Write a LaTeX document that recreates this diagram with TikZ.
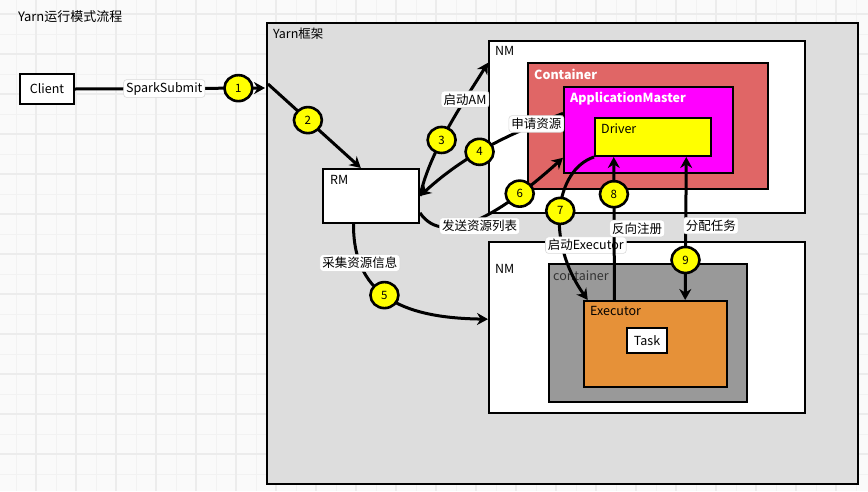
\documentclass[tikz,border=0pt]{standalone}
\usepackage{fontspec}
\setmainfont{Noto Sans CJK SC}
\usetikzlibrary{arrows.meta,shapes.geometric}
\definecolor{yarnbg}{RGB}{250, 250, 250}
\definecolor{yarngridminor}{RGB}{242, 242, 242}
\definecolor{yarngridmajor}{RGB}{236, 236, 236}
\definecolor{yarngray}{RGB}{221, 221, 221}
\definecolor{yarnred}{RGB}{224, 102, 102}
\definecolor{yarnmagenta}{RGB}{255, 0, 255}
\definecolor{yarnyellow}{RGB}{255, 255, 0}
\definecolor{yarndark}{RGB}{153, 153, 153}
\definecolor{yarnorange}{RGB}{230, 145, 56}

\tikzset{
    box/.style={draw=black, line width=2pt, anchor=north west, inner sep=0pt},
    boxtitle/.style={anchor=west, inner sep=0pt, font=\fontsize{12.5}{14}\selectfont},
    flow/.style={line width=3pt, -{Stealth[length=11pt,width=12pt]}},
    twoway/.style={line width=3pt, {Stealth[length=11pt,width=12pt]}-{Stealth[length=11pt,width=12pt]}},
    edgetext/.style={fill=white, draw=black!15, line width=0.6pt, rounded corners=3pt,
        inner sep=2.5pt, font=\fontsize{12.5}{14}\selectfont},
    badge/.style={ellipse, fill=yarnyellow, draw=black, line width=2.6pt, minimum width=28pt,
        minimum height=26pt, inner sep=0pt, font=\fontsize{11.5}{12}\selectfont},
}

\begin{document}
\begin{tikzpicture}[x=1pt, y=-1pt]
    \useasboundingbox (0,0) rectangle (868,491);

    % background grid
    \fill[yarnbg] (0,0) rectangle (868,491);
    \foreach \gx in {16,56,...,856} \draw[yarngridminor, line width=1pt] (\gx,0) -- (\gx,491);
    \foreach \gy in {34,74,...,474} \draw[yarngridminor, line width=1pt] (0,\gy) -- (868,\gy);
    \foreach \gx in {36,76,...,836} \draw[yarngridmajor, line width=1.4pt] (\gx,0) -- (\gx,491);
    \foreach \gy in {14,54,...,454} \draw[yarngridmajor, line width=1.4pt] (0,\gy) -- (868,\gy);

    \node[boxtitle, font=\fontsize{13}{15}\selectfont] (title) at (18,17) {Yarn运行模式流程};

    % Client
    \node[box, fill=white, minimum width=54pt, minimum height=30pt, font=\fontsize{12.5}{14}\selectfont] (client) at (19,73) {Client};

    % Yarn
    \node[box, fill=yarngray, minimum width=591pt, minimum height=461pt] (yarn) at (266,22) {};
    \node[boxtitle] (yarnlbl) at (273,34) {Yarn框架};
    \coordinate (yarnin) at (265,88);
    \coordinate (yarnout) at (268,84);

    % RM
    \node[box, fill=white, minimum width=96pt, minimum height=54pt] (rm) at (322,168) {};
    \node[boxtitle] (rmlbl) at (330,180) {RM};

    % NM with ApplicationMaster
    \node[box, fill=white, minimum width=316pt, minimum height=172pt] (nm1) at (488,40) {};
    \node[boxtitle] (nm1lbl) at (495,51) {NM};
    \node[box, fill=yarnred, minimum width=240pt, minimum height=126pt] (ctr1) at (527,62) {};
    \node[boxtitle, text=white, font=\fontsize{12.5}{14}\selectfont\bfseries] (ctr1lbl) at (534,74) {Container};
    \node[box, fill=yarnmagenta, minimum width=169pt, minimum height=86pt] (am) at (563,86) {};
    \node[boxtitle, text=white, font=\fontsize{12.5}{14}\selectfont\bfseries] (amlbl) at (570,99) {ApplicationMaster};
    \node[box, fill=yarnyellow, minimum width=116pt, minimum height=38pt] (drv) at (594,117) {};
    \node[boxtitle] (drvlbl) at (601,129) {Driver};

    % NM with Executor
    \node[box, fill=white, minimum width=316pt, minimum height=171pt] (nm2) at (488,241) {};
    \node[boxtitle] (nm2lbl) at (495,269) {NM};
    \node[box, fill=yarndark, minimum width=198pt, minimum height=138pt] (ctr2) at (548,263) {};
    \node[boxtitle, text=black!80] (ctr2lbl) at (553,276) {container};
    \node[box, fill=yarnorange, minimum width=143pt, minimum height=86pt] (exe) at (583,300) {};
    \node[boxtitle] (exelbl) at (590,311) {Executor};
    \node[box, fill=white, minimum width=40pt, minimum height=25pt, font=\fontsize{12.5}{14}\selectfont] (task) at (626,327) {Task};

    % steps
    \draw[flow] (client.east) -- (yarnin)
        node[edgetext, pos=0.47] (sparksubmit) {SparkSubmit} node[badge, pos=0.86] (b1) {1};
    \draw[flow] (yarnout) -- (rm.110) node[badge, pos=0.43] (b2) {2};
    \draw[flow] (rm.east) .. controls (430,150) and (465,100) .. (nm1.158)
        node[badge, pos=0.4] (b3) {3} node[edgetext, pos=0.7] (startam) {启动AM};
    \draw[flow] (am.169) .. controls (520,130) and (470,150) .. (rm.east)
        node[edgetext, pos=0.2] (askres) {申请资源} node[badge, pos=0.6] (b4) {4};
    \draw[flow] (rm.238) .. controls (353,300) and (410,318) .. (nm2.177)
        node[edgetext, pos=0.2] (collect) {采集资源信息} node[badge, pos=0.45] (b5) {5};
    \draw[flow] (rm.-19) .. controls (445,250) and (505,210) .. (am.198)
        node[edgetext, pos=0.45, xshift=8pt, yshift=-4pt] (sendlist) {发送资源列表} node[badge, pos=0.75] (b6) {6};
    \draw[flow] (drv.south west) .. controls (555,170) and (545,240) .. (exe.147)
        node[badge, pos=0.5] (b7) {7} node[edgetext, pos=0.7, xshift=23pt] (startexe) {启动Executor};
    \draw[flow] (exe.133) -- (drv.207)
        node[edgetext, pos=0.5, xshift=23pt] (register) {反向注册} node[badge, pos=0.74] (b8) {8};
    \draw[twoway] (drv.-31.5) -- (exe.56.5)
        node[edgetext, pos=0.48, xshift=25pt] (assign) {分配任务} node[badge, pos=0.72] (b9) {9};
\end{tikzpicture}
\end{document}
